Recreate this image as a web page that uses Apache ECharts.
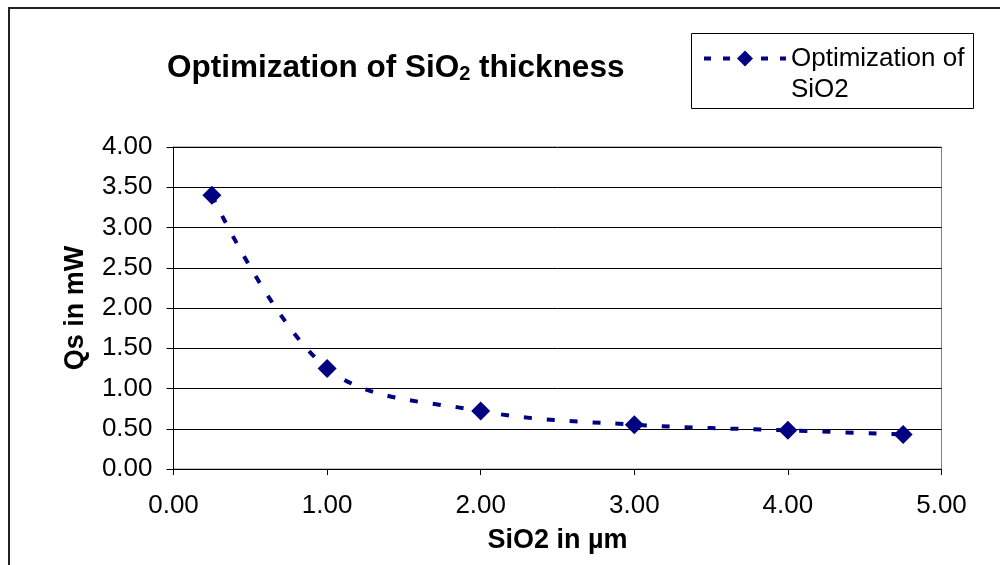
<!DOCTYPE html>
<html>
<head>
<meta charset="utf-8">
<script src="https://cdn.jsdelivr.net/npm/echarts@6/dist/echarts.min.js"></script>
<style>html,body{margin:0;padding:0;background:#fff}#c{width:1000px;height:565px}</style>
</head>
<body>
<div id="c"></div>
<script>
const thickness = [0.25, 1.00, 2.00, 3.00, 4.00, 4.75];
const qs = [3.40, 1.25, 0.72, 0.55, 0.48, 0.43];
const seriesName = 'Optimization of SiO2';
const xAxisName = 'SiO2 in µm';
const yAxisName = 'Qs in mW';

const chart = echarts.init(document.getElementById('c'), null, {renderer: 'canvas'});
const font = '"Liberation Sans", Arial, sans-serif';
chart.setOption({
  animation: false,
  backgroundColor: '#fff',
  textStyle: {fontFamily: font},
  title: {
    left: 162, top: 43,
    text: '{a|Optimization of SiO}{s|2}{a| thickness}',
    textStyle: {
      rich: {
        a: {fontFamily: font, fontSize: 31.5, fontWeight: 'bold', color: '#000', lineHeight: 36, verticalAlign: 'bottom'},
        s: {fontFamily: font, fontSize: 20, fontWeight: 'bold', color: '#000', lineHeight: 24, verticalAlign: 'bottom'}
      }
    }
  },
  legend: {
    left: 702, top: 12,
    itemWidth: 82, itemHeight: 20, itemGap: 0, padding: 0,
    formatter: () => '\nOptimization of\nSiO2',
    textStyle: {fontFamily: font, fontSize: 26, color: '#000', lineHeight: 31},
    lineStyle: {width: 4, type: [7, 12]},
    data: [seriesName]
  },
  graphic: [
    {type: 'rect', shape: {x: 9, y: 8, width: 1010, height: 600}, style: {fill: 'none', stroke: '#222', lineWidth: 2}, silent: true},
    {type: 'rect', shape: {x: 691.5, y: 33.5, width: 282, height: 75}, style: {fill: 'none', stroke: '#000', lineWidth: 1}, silent: true}
  ],
  grid: {left: 173.5, right: 58.5, top: 147, bottom: 96, show: true, borderColor: '#808080', borderWidth: 1, backgroundColor: 'transparent'},
  xAxis: {
    type: 'value', min: 0, max: 5, interval: 1,
    name: xAxisName, nameLocation: 'middle', nameGap: 58,
    nameTextStyle: {fontFamily: font, fontSize: 27, fontWeight: 'bold', color: '#000'},
    axisLine: {show: true, lineStyle: {color: '#000', width: 1}},
    axisTick: {show: true, length: 6, lineStyle: {color: '#000'}},
    axisLabel: {fontFamily: font, fontSize: 26, color: '#000', margin: 24, formatter: v => v.toFixed(2)},
    splitLine: {show: false}
  },
  yAxis: {
    type: 'value', min: 0, max: 4, interval: 0.5,
    name: yAxisName, nameLocation: 'middle', nameGap: 84,
    nameTextStyle: {fontFamily: font, fontSize: 27, fontWeight: 'bold', color: '#000'},
    axisLine: {show: true, lineStyle: {color: '#000', width: 1}},
    axisTick: {show: true, length: 7, lineStyle: {color: '#000'}},
    axisLabel: {fontFamily: font, fontSize: 26, color: '#000', margin: 21, formatter: v => v.toFixed(2)},
    splitLine: {show: true, lineStyle: {color: '#000', width: 1}}
  },
  series: [{
    name: seriesName,
    type: 'line',
    smooth: 0.35,
    data: thickness.map((x, i) => [x, qs[i]]),
    symbol: 'diamond', symbolSize: 19,
    itemStyle: {color: '#000080'},
    lineStyle: {color: '#000080', width: 4, type: [8, 15], cap: 'butt'}
  }]
});
</script>
</body>
</html>
